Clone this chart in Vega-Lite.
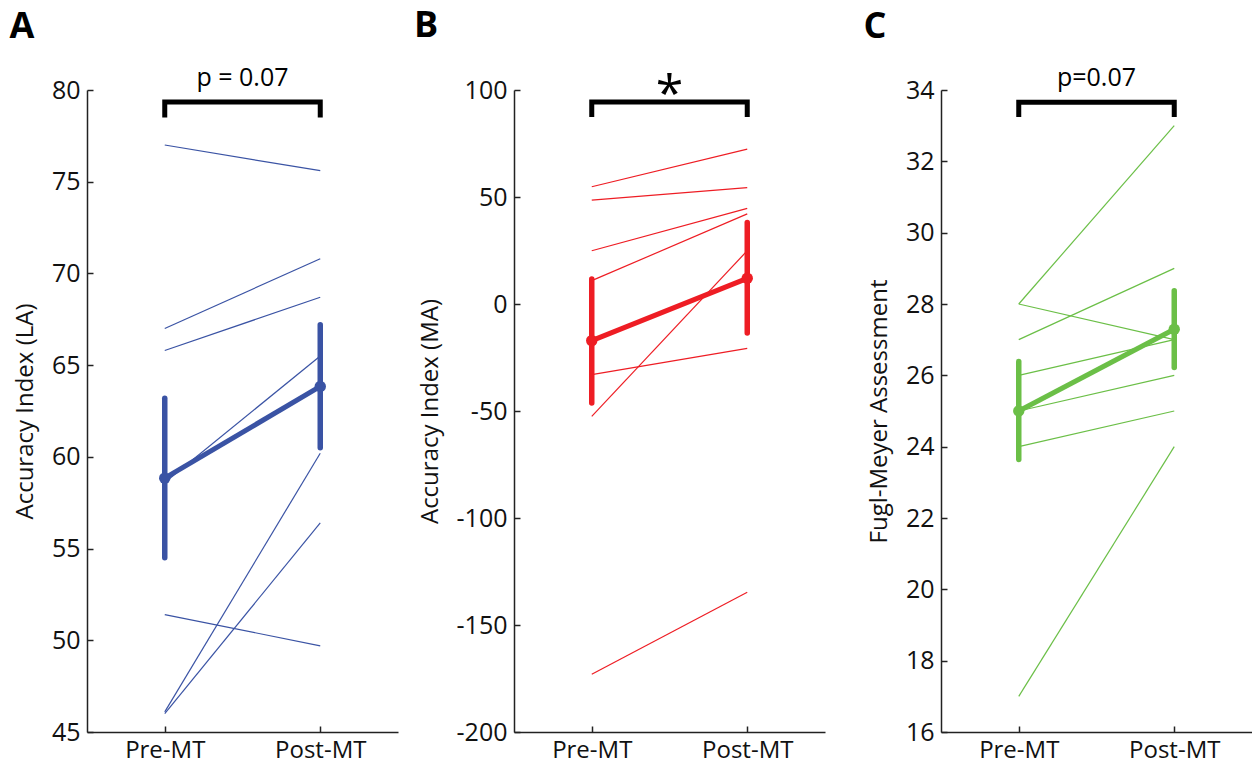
{
  "$schema": "https://vega.github.io/schema/vega-lite/v6.json",
  "background": "white",
  "padding": {"left": 9, "top": 8, "right": 0, "bottom": 0},
  "spacing": 116,
  "bounds": "flush",
  "datasets": {
    "A_ind": [
      {"s": 1, "t": 1, "v": 77.0}, {"s": 1, "t": 2, "v": 75.6},
      {"s": 2, "t": 1, "v": 67.0}, {"s": 2, "t": 2, "v": 70.8},
      {"s": 3, "t": 1, "v": 65.8}, {"s": 3, "t": 2, "v": 68.7},
      {"s": 4, "t": 1, "v": 58.6}, {"s": 4, "t": 2, "v": 65.5},
      {"s": 5, "t": 1, "v": 46.1}, {"s": 5, "t": 2, "v": 60.2},
      {"s": 6, "t": 1, "v": 46.0}, {"s": 6, "t": 2, "v": 56.4},
      {"s": 7, "t": 1, "v": 51.4}, {"s": 7, "t": 2, "v": 49.7}
    ],
    "A_mean": [
      {"t": 1, "v": 58.84, "lo": 54.5, "hi": 63.2},
      {"t": 2, "v": 63.84, "lo": 60.5, "hi": 67.2}
    ],
    "A_br": [
      {"o": 1, "t": 1, "v": 78.5}, {"o": 2, "t": 1, "v": 79.35},
      {"o": 3, "t": 2, "v": 79.35}, {"o": 4, "t": 2, "v": 78.5}
    ],
    "A_txt": [{"t": 1.5, "v": 80.22, "label": "p = 0.07"}],
    "B_ind": [
      {"s": 1, "t": 1, "v": 54.8}, {"s": 1, "t": 2, "v": 72.4},
      {"s": 2, "t": 1, "v": 48.5}, {"s": 2, "t": 2, "v": 54.4},
      {"s": 3, "t": 1, "v": 24.9}, {"s": 3, "t": 2, "v": 44.7},
      {"s": 4, "t": 1, "v": 10.9}, {"s": 4, "t": 2, "v": 42.1},
      {"s": 5, "t": 1, "v": -52.5}, {"s": 5, "t": 2, "v": 24.9},
      {"s": 6, "t": 1, "v": -33.0}, {"s": 6, "t": 2, "v": -20.7},
      {"s": 7, "t": 1, "v": -173.0}, {"s": 7, "t": 2, "v": -134.7}
    ],
    "B_mean": [
      {"t": 1, "v": -17.1, "lo": -46.3, "hi": 11.7},
      {"t": 2, "v": 12.0, "lo": -13.6, "hi": 38.1}
    ],
    "B_br": [
      {"o": 1, "t": 1, "v": 87.4}, {"o": 2, "t": 1, "v": 94.4},
      {"o": 3, "t": 2, "v": 94.4}, {"o": 4, "t": 2, "v": 87.4}
    ],
    "B_txt": [{"t": 1.5, "v": 90.0, "label": "*"}],
    "C_ind": [
      {"s": 1, "t": 1, "v": 28}, {"s": 1, "t": 2, "v": 33},
      {"s": 2, "t": 1, "v": 28}, {"s": 2, "t": 2, "v": 27},
      {"s": 3, "t": 1, "v": 27}, {"s": 3, "t": 2, "v": 29},
      {"s": 4, "t": 1, "v": 26}, {"s": 4, "t": 2, "v": 27},
      {"s": 5, "t": 1, "v": 25}, {"s": 5, "t": 2, "v": 26},
      {"s": 6, "t": 1, "v": 24}, {"s": 6, "t": 2, "v": 25},
      {"s": 7, "t": 1, "v": 17}, {"s": 7, "t": 2, "v": 24}
    ],
    "C_mean": [
      {"t": 1, "v": 25.0, "lo": 23.64, "hi": 26.39},
      {"t": 2, "v": 27.29, "lo": 26.22, "hi": 28.37}
    ],
    "C_br": [
      {"o": 1, "t": 1, "v": 33.24}, {"o": 2, "t": 1, "v": 33.66},
      {"o": 3, "t": 2, "v": 33.66}, {"o": 4, "t": 2, "v": 33.24}
    ],
    "C_txt": [{"t": 1.5, "v": 34.11, "label": "p=0.07"}]
  },
  "hconcat": [
    {
      "width": 311, "height": 642,
      "title": {"text": "A", "anchor": "start", "frame": "bounds", "fontSize": 36, "fontWeight": "bold", "font": "Open Sans", "color": "black", "offset": 20, "dx": -4},
      "encoding": {
        "x": {"field": "t", "type": "quantitative", "scale": {"domain": [0.5, 2.5], "nice": false, "zero": false},
              "axis": {"values": [1, 2], "title": null, "labelExpr": "datum.value == 1 ? 'Pre-MT' : 'Post-MT'"}},
        "y": {"field": "v", "type": "quantitative", "title": "Accuracy Index (LA)", "scale": {"domain": [45, 80], "nice": false, "zero": false},
              "axis": {"values": [45, 50, 55, 60, 65, 70, 75, 80], "labelExpr": "'' + datum.value"}}
      },
      "layer": [
        {"data": {"name": "A_ind"}, "mark": {"type": "line", "color": "#3A53A4", "strokeWidth": 1.2}, "encoding": {"detail": {"field": "s"}}},
        {"data": {"name": "A_mean"}, "mark": {"type": "rule", "color": "#3A53A4", "strokeWidth": 5.5, "strokeCap": "round"},
         "encoding": {"y": {"field": "lo", "type": "quantitative", "title": "Accuracy Index (LA)"}, "y2": {"field": "hi"}}},
        {"data": {"name": "A_mean"}, "mark": {"type": "line", "color": "#3A53A4", "strokeWidth": 5}},
        {"data": {"name": "A_mean"}, "mark": {"type": "circle", "color": "#3A53A4", "size": 130, "opacity": 1}},
        {"data": {"name": "A_br"}, "mark": {"type": "line", "color": "black", "strokeWidth": 5, "strokeJoin": "miter", "strokeCap": "butt", "clip": false}, "encoding": {"order": {"field": "o"}}},
        {"data": {"name": "A_txt"}, "mark": {"type": "text", "fontSize": 25, "font": "Open Sans", "baseline": "alphabetic", "align": "center", "color": "black"}, "encoding": {"text": {"field": "label"}}}
      ]
    },
    {
      "width": 311, "height": 642,
      "title": {"text": "B", "anchor": "start", "frame": "bounds", "fontSize": 36, "fontWeight": "bold", "font": "Open Sans", "color": "black", "offset": 20, "dx": -4, "dy": -6},
      "encoding": {
        "x": {"field": "t", "type": "quantitative", "scale": {"domain": [0.5, 2.5], "nice": false, "zero": false},
              "axis": {"values": [1, 2], "title": null, "labelExpr": "datum.value == 1 ? 'Pre-MT' : 'Post-MT'"}},
        "y": {"field": "v", "type": "quantitative", "title": "Accuracy Index (MA)", "scale": {"domain": [-200, 100], "nice": false, "zero": false},
              "axis": {"values": [-200, -150, -100, -50, 0, 50, 100], "labelExpr": "'' + datum.value"}}
      },
      "layer": [
        {"data": {"name": "B_ind"}, "mark": {"type": "line", "color": "#EE1D24", "strokeWidth": 1.2}, "encoding": {"detail": {"field": "s"}}},
        {"data": {"name": "B_mean"}, "mark": {"type": "rule", "color": "#EE1D24", "strokeWidth": 5.5, "strokeCap": "round"},
         "encoding": {"y": {"field": "lo", "type": "quantitative", "title": "Accuracy Index (MA)"}, "y2": {"field": "hi"}}},
        {"data": {"name": "B_mean"}, "mark": {"type": "line", "color": "#EE1D24", "strokeWidth": 5}},
        {"data": {"name": "B_mean"}, "mark": {"type": "circle", "color": "#EE1D24", "size": 130, "opacity": 1}},
        {"data": {"name": "B_br"}, "mark": {"type": "line", "color": "black", "strokeWidth": 5, "strokeJoin": "miter", "strokeCap": "butt", "clip": false}, "encoding": {"order": {"field": "o"}}},
        {"data": {"name": "B_txt"}, "mark": {"type": "text", "fontSize": 50, "font": "Open Sans", "baseline": "alphabetic", "align": "center", "color": "black"}, "encoding": {"text": {"field": "label"}}}
      ]
    },
    {
      "width": 311, "height": 642,
      "title": {"text": "C", "anchor": "start", "frame": "bounds", "fontSize": 36, "fontWeight": "bold", "font": "Open Sans", "color": "black", "offset": 20, "dx": -4},
      "encoding": {
        "x": {"field": "t", "type": "quantitative", "scale": {"domain": [0.5, 2.5], "nice": false, "zero": false},
              "axis": {"values": [1, 2], "title": null, "labelExpr": "datum.value == 1 ? 'Pre-MT' : 'Post-MT'"}},
        "y": {"field": "v", "type": "quantitative", "title": "Fugl-Meyer Assessment", "scale": {"domain": [16, 34], "nice": false, "zero": false},
              "axis": {"values": [16, 18, 20, 22, 24, 26, 28, 30, 32, 34], "labelExpr": "'' + datum.value"}}
      },
      "layer": [
        {"data": {"name": "C_ind"}, "mark": {"type": "line", "color": "#6BBF47", "strokeWidth": 1.2}, "encoding": {"detail": {"field": "s"}}},
        {"data": {"name": "C_mean"}, "mark": {"type": "rule", "color": "#6BBF47", "strokeWidth": 5.5, "strokeCap": "round"},
         "encoding": {"y": {"field": "lo", "type": "quantitative", "title": "Fugl-Meyer Assessment"}, "y2": {"field": "hi"}}},
        {"data": {"name": "C_mean"}, "mark": {"type": "line", "color": "#6BBF47", "strokeWidth": 5}},
        {"data": {"name": "C_mean"}, "mark": {"type": "circle", "color": "#6BBF47", "size": 130, "opacity": 1}},
        {"data": {"name": "C_br"}, "mark": {"type": "line", "color": "black", "strokeWidth": 5, "strokeJoin": "miter", "strokeCap": "butt", "clip": false}, "encoding": {"order": {"field": "o"}}},
        {"data": {"name": "C_txt"}, "mark": {"type": "text", "fontSize": 25, "font": "Open Sans", "baseline": "alphabetic", "align": "center", "color": "black"}, "encoding": {"text": {"field": "label"}}}
      ]
    }
  ],
  "config": {
    "view": {"stroke": null},
    "font": "Open Sans",
    "axis": {
      "grid": false,
      "domainColor": "#222222", "domainWidth": 1.5,
      "tickColor": "#222222", "tickWidth": 1.5, "tickSize": -6,
      "labelFont": "Open Sans", "labelFontSize": 25, "labelColor": "#111111",
      "titleFont": "Open Sans", "titleFontSize": 24, "titleFontWeight": "normal", "titleColor": "#111111"
    },
    "axisY": {"labelPadding": 13, "titlePadding": 14},
    "axisX": {"labelPadding": 31, "labelFontSize": 24, "labelBaseline": "alphabetic"}
  }
}
